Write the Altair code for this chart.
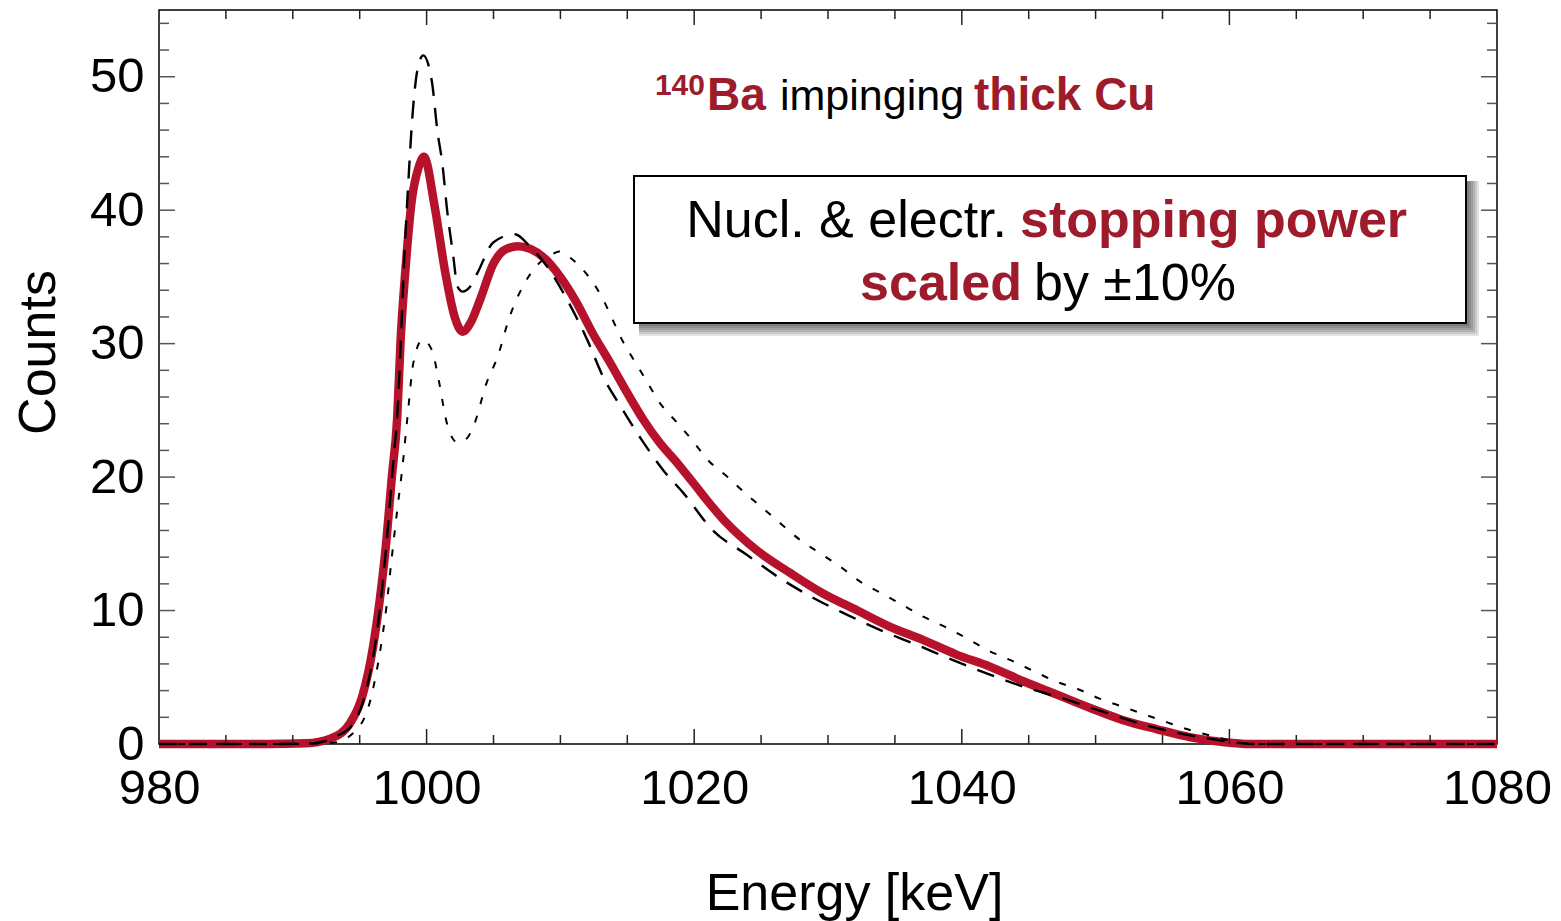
import altair as alt
import pandas as pd

# ---- spectra: energy [keV] and counts for the three stopping-power settings ----
energy_nominal = [980, 988, 991, 992.8, 994.3, 995.2, 996.0, 996.5, 997.0, 997.4, 997.8,
                  998.06, 998.4, 998.9, 999.4, 999.8, 1000.6, 1001.4, 1002.1, 1002.7,
                  1003.3, 1004.0, 1005.0, 1005.8, 1006.8, 1008.7, 1010.0, 1011.2, 1012.4,
                  1013.7, 1015.0, 1016.2, 1017.4, 1018.7, 1019.9, 1022.2, 1024.7, 1027.2,
                  1029.6, 1032.2, 1034.6, 1037.1, 1039.6, 1042.1, 1044.6, 1047.1, 1049.6,
                  1052.0, 1054.6, 1057.1, 1059.5, 1061.5, 1070, 1080]
counts_nominal = [0, 0, 0.05, 0.4, 1.6, 3.6, 7.3, 10.8, 15.3, 20.0, 24.4,
                  30.3, 35.3, 40.8, 43.2, 44.0, 40.3, 35.3, 32.0, 30.9,
                  31.6, 33.3, 36.0, 37.0, 37.3, 36.5, 35.0, 33.1, 30.8,
                  28.6, 26.3, 24.3, 22.6, 21.1, 19.6, 16.8, 14.5, 12.8,
                  11.3, 10.0, 8.8, 7.8, 6.7, 5.8, 4.7, 3.7, 2.7,
                  1.8, 1.1, 0.5, 0.15, 0.0, 0, 0]

energy_minus = [980, 988, 991.5, 993.3, 994.5, 995.2, 996.0, 996.5, 997.0, 997.5, 997.8,
                998.4, 998.6, 999.0, 999.35, 999.75, 1000.4, 1000.8, 1001.2, 1001.5,
                1002.0, 1002.3, 1002.7, 1003.2, 1003.8, 1005.0, 1006.6, 1007.7, 1009.2,
                1010.5, 1012.0, 1013.2, 1014.5, 1016.2, 1017.7, 1019.2, 1021.4, 1023.9,
                1026.3, 1028.8, 1031.4, 1034.0, 1036.7, 1039.3, 1042.1, 1044.9, 1047.6,
                1050.3, 1053.1, 1055.8, 1058.5, 1061.0, 1062, 1070, 1080]
counts_minus = [0, 0, 0.05, 0.6, 1.5, 3.0, 6.5, 10.0, 15.0, 21.0, 24.5,
                37.8, 41.5, 47.8, 50.7, 51.6, 49.6, 46.0, 43.3, 40.3,
                36.5, 34.3, 33.9, 34.2, 35.3, 37.6, 38.2, 37.3, 35.5,
                33.3, 30.3, 27.5, 25.3, 22.6, 20.5, 18.8, 16.0, 14.2,
                12.5, 11.0, 9.7, 8.5, 7.4, 6.3, 5.2, 4.2, 3.4,
                2.5, 1.6, 0.9, 0.4, 0.05, 0, 0, 0]

energy_plus = [980, 990, 993.0, 994.5, 995.8, 996.5, 997.0, 997.4, 997.8, 998.2, 998.6,
               999.0, 999.7, 1000.4, 1000.9, 1001.5, 1002.3, 1003.0, 1003.5, 1004.5,
               1005.3, 1006.2, 1007.2, 1008.2, 1009.4, 1009.9, 1010.9, 1012.2, 1013.2,
               1013.9, 1014.7, 1015.6, 1016.5, 1017.4, 1018.7, 1019.9, 1021.0, 1022.5,
               1023.8, 1025.1, 1026.6, 1027.9, 1029.4, 1030.9, 1032.5, 1034.0, 1035.6,
               1037.2, 1038.9, 1040.4, 1042.0, 1043.6, 1045.3, 1047.0, 1048.7, 1050.3,
               1052.0, 1053.7, 1055.4, 1057.2, 1059.1, 1060.8, 1062, 1070, 1080]
counts_plus = [0, 0, 0.1, 0.8, 3.3, 6.8, 10.3, 14.0, 17.5, 20.8, 24.8,
               28.5, 30.3, 29.5, 27.3, 24.1, 22.6, 22.9, 23.8, 27.1,
               29.0, 32.0, 34.3, 35.8, 36.7, 36.9, 36.3, 34.9, 33.3,
               31.8, 30.1, 28.6, 27.1, 25.6, 24.1, 22.7, 21.3, 20.0,
               18.8, 17.7, 16.4, 15.3, 14.3, 13.3, 12.1, 11.3, 10.4,
               9.5, 8.7, 7.9, 7.0, 6.3, 5.5, 4.7, 4.1, 3.4,
               2.8, 2.2, 1.6, 1.0, 0.5, 0.1, 0, 0, 0]

# ---- axis ticks and labels ----
x_label_values = [980, 1000, 1020, 1040, 1060, 1080]
y_label_values = [0, 10, 20, 30, 40, 50]
x_tick_values = list(range(985, 1080, 5))
y_tick_values = list(range(2, 55, 2))

# ---- annotation texts ----
header_parts = ["140", "Ba", "impinging", "thick Cu"]
box_line1 = ["Nucl. & electr.", "stopping power"]
box_line2 = ["scaled", "by \u00b110%"]

RED_LINE = "#b7122b"
RED_TEXT = "#9d1b2b"
FONT = "Liberation Sans"
W, H = 1338, 734

xscale = alt.Scale(domain=[980, 1080], nice=False, zero=False)
yscale = alt.Scale(domain=[0, 55], nice=False, zero=False)


def series_frame(energy, counts):
    return pd.DataFrame({"energy": energy, "counts": counts})


x_axis = alt.Axis(values=x_label_values, format="d", labelFontSize=49, labelFont=FONT,
                  labelColor="black", labelPadding=20, labelFlush=False, labelOverlap=False,
                  ticks=False, domain=False, grid=False, title="Energy [keV]", titleFont=FONT,
                  titleFontSize=52, titleFontWeight="normal", titleColor="black",
                  titleX=695, titleY=165, titleBaseline="alphabetic", titleAlign="center")
y_axis = alt.Axis(values=y_label_values, format="d", labelFontSize=49, labelFont=FONT,
                  labelColor="black", labelPadding=15, labelFlush=False, labelOverlap=False,
                  ticks=False, domain=False, grid=False, title="Counts", titleFont=FONT,
                  titleFontSize=52, titleFontWeight="normal", titleColor="black",
                  titleAngle=-90, titleX=-105, titleY=342, titleBaseline="alphabetic",
                  titleAlign="center")

nominal = alt.Chart(series_frame(energy_nominal, counts_nominal)).mark_line(
    color=RED_LINE, strokeWidth=8.5, interpolate="monotone", clip=False
).encode(
    x=alt.X("energy:Q", scale=xscale, axis=x_axis),
    y=alt.Y("counts:Q", scale=yscale, axis=y_axis),
)

minus = alt.Chart(series_frame(energy_minus, counts_minus)).mark_line(
    color="black", strokeWidth=2.4, strokeDash=[18, 12], interpolate="monotone"
).encode(
    x=alt.X("energy:Q", scale=xscale),
    y=alt.Y("counts:Q", scale=yscale),
)

plus = alt.Chart(series_frame(energy_plus, counts_plus)).mark_line(
    color="black", strokeWidth=2.0, strokeDash=[7, 12], interpolate="monotone"
).encode(
    x=alt.X("energy:Q", scale=xscale),
    y=alt.Y("counts:Q", scale=yscale),
)


def ticks(values, axis, major_every, major_len, minor_len, color):
    df = pd.DataFrame({"energy" if axis == "x" else "counts": values})
    col = df.columns[0]
    df["major"] = df[col] % major_every == 0
    layers = []
    for is_major, length in [(True, major_len), (False, minor_len)]:
        sub = df[df["major"] == is_major]
        if sub.empty:
            continue
        base = alt.Chart(sub).mark_rule(color=color, strokeWidth=1.5)
        if axis == "x":
            pos = alt.X("energy:Q", scale=xscale)
            layers.append(base.encode(x=pos, y=alt.value(H), y2=alt.value(H - length)))
            layers.append(base.encode(x=pos, y=alt.value(0), y2=alt.value(length)))
        else:
            pos = alt.Y("counts:Q", scale=yscale)
            layers.append(base.encode(y=pos, x=alt.value(0), x2=alt.value(length)))
            layers.append(base.encode(y=pos, x=alt.value(W), x2=alt.value(W - length)))
    return layers


tick_layers = ticks(x_tick_values, "x", 20, 15, 9, "#222222") + \
    ticks(y_tick_values, "y", 10, 16, 10, "#555555")


def label(text, x, y, size, bold, color, align):
    return alt.Chart(pd.DataFrame({"t": [text]})).mark_text(
        font=FONT, fontSize=size, fontWeight="bold" if bold else "normal",
        color=color, align=align, baseline="alphabetic"
    ).encode(text="t:N", x=alt.value(x), y=alt.value(y))


header = [
    label(header_parts[0], 546, 85, 30, True, RED_TEXT, "right"),
    label(header_parts[1], 548, 100, 46, True, RED_TEXT, "left"),
    label(header_parts[2], 621, 100, 43, False, "black", "left"),
    label(header_parts[3], 815, 100, 46, True, RED_TEXT, "left"),
]

# framed note box with a soft drop shadow
bx1, bx2, by1, by2 = 475, 1307, 166, 313
one = pd.DataFrame({"k": [0]})
shadow = [
    alt.Chart(one).mark_rect(color="black", opacity=0.11).encode(
        x=alt.value(bx1 + 5), x2=alt.value(bx2 + 1 + 2 * k),
        y=alt.value(by1 + 5), y2=alt.value(by2 + 1 + 2 * k))
    for k in range(1, 7)
]
box = alt.Chart(one).mark_rect(fill="white", stroke="black", strokeWidth=2).encode(
    x=alt.value(bx1), x2=alt.value(bx2), y=alt.value(by1), y2=alt.value(by2))

box_text = [
    label(box_line1[0], 848, 227, 52, False, "black", "right"),
    label(box_line1[1], 861, 227, 52, True, RED_TEXT, "left"),
    label(box_line2[0], 863, 290, 52, True, RED_TEXT, "right"),
    label(box_line2[1], 875, 290, 52, False, "black", "left"),
]

chart = alt.layer(
    nominal, minus, plus, *tick_layers, *shadow, box, *box_text, *header
).properties(
    width=W, height=H,
    padding={"left": 159, "top": 10, "right": 64, "bottom": 177},
    autosize=alt.AutoSizeParams(type="none"),
    background="white",
).configure_view(
    stroke="black", strokeWidth=1.5
)

chart.save("out.html", embed_options={"renderer": "svg", "actions": False})
